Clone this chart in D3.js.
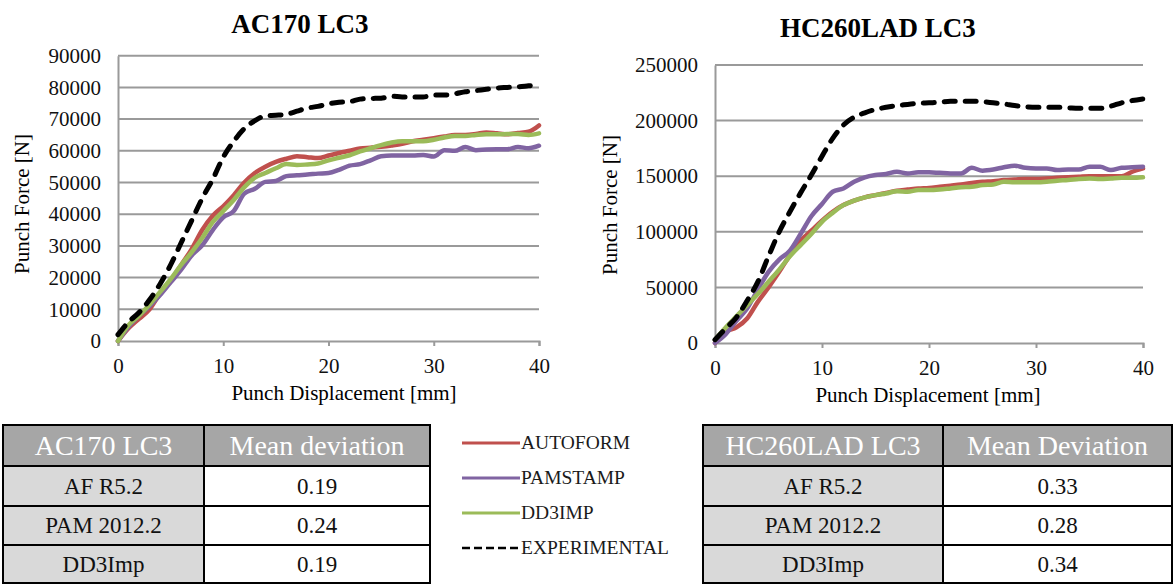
<!DOCTYPE html>
<html>
<head>
<meta charset="utf-8">
<script src="https://cdn.jsdelivr.net/npm/d3@7"></script>
<style>
  body { margin: 0; background: #fff; }
  svg { display: block; }
  svg text { font-family: "Liberation Serif", "Times New Roman", serif; }
</style>
</head>
<body>
<svg></svg>
<script>
// punch displacement [mm], shared by all series
const displacement = [0, 1, 2, 3, 4, 5, 6, 7, 8, 9, 10, 11, 12, 13, 14, 15, 16, 17, 18, 19, 20,
  21, 22, 23, 24, 25, 26, 27, 28, 29, 30, 31, 32, 33, 34, 35, 36, 37, 38, 39, 40];

// AC170 LC3 punch force [N]
const acAutoform = [0, 4000, 7000, 10000, 15000, 19000, 24000, 29000, 35000, 39500, 42500, 46000, 50000, 53000,
  55000, 56500, 57500, 58300, 58000, 57700, 58500, 59300, 60000, 60700, 61000, 61300, 61700, 62200, 63000,
  63500, 64000, 64500, 65000, 65000, 65300, 65800, 65500, 65200, 65600, 66000, 68000];
const acPamstamp = [0, 4500, 8000, 11000, 14500, 18500, 22500, 27000, 30200, 35000, 39000, 41000, 46500, 48000,
  50200, 50500, 52000, 52300, 52500, 52800, 53000, 54000, 55300, 55800, 57000, 58300, 58500, 58500, 58500,
  58700, 58200, 60200, 60000, 61200, 60200, 60400, 60500, 60500, 61200, 60800, 61600];
const acDd3imp = [0, 5000, 8000, 11500, 15500, 19500, 24000, 28000, 32500, 37500, 41000, 44500, 48500, 51500,
  53000, 54500, 55800, 55500, 55700, 56000, 57000, 57800, 58600, 59800, 60800, 61800, 62600, 63000, 63000,
  63000, 63500, 64200, 64700, 64700, 65000, 65200, 65200, 65300, 65300, 65000, 65500];
const acExperimental = [2000, 6000, 9000, 13000, 18000, 24000, 31000, 38000, 45000, 51000, 58000, 63000, 67000,
  69500, 71000, 71200, 71500, 72500, 73500, 74000, 74800, 75300, 75500, 76300, 76500, 76600, 77200, 77000,
  77000, 77000, 77600, 77600, 78000, 78600, 79000, 79400, 79800, 80000, 80200, 80500, 80800];

// HC260LAD LC3 punch force [N]
const hcAutoform = [0, 10000, 14000, 22000, 37000, 50000, 64000, 79000, 92000, 101000, 110000, 118000, 124000,
  128000, 131000, 133000, 135000, 137000, 138000, 139000, 139500, 140500, 141500, 142500, 144000, 145000,
  145500, 146500, 147000, 147500, 147500, 148000, 148500, 149000, 149500, 150000, 150000, 150000, 150000,
  154000, 157000];
const hcPamstamp = [0, 8000, 20000, 31000, 48000, 64000, 75000, 83000, 98000, 114000, 125000, 136000, 139000,
  145000, 149000, 151000, 152000, 154000, 152500, 153500, 153500, 153000, 152500, 152500, 157500, 155000,
  156000, 158000, 159500, 157500, 157000, 157000, 155500, 156000, 156000, 158500, 158500, 155500, 157500,
  158000, 158500];
const hcDd3imp = [3000, 14000, 24000, 34000, 44000, 55000, 66000, 78000, 88000, 98000, 109000, 117000, 124000,
  128000, 131000, 133000, 134500, 136500, 136000, 137500, 137500, 138000, 139000, 140000, 140500, 142000,
  142500, 145000, 144500, 144500, 144500, 145000, 146000, 146500, 147500, 148000, 147500, 148000, 148500,
  148500, 149000];
const hcExperimental = [3000, 13000, 23000, 38000, 55000, 78000, 100000, 118000, 135000, 151000, 168000, 184000,
  196000, 203000, 207000, 210000, 212000, 213500, 214500, 215500, 216000, 216500, 217500, 217500, 217500,
  217000, 216000, 215000, 213500, 212500, 212000, 212000, 212000, 211500, 211000, 211000, 211000, 213000,
  216000, 218000, 219500];

const xTicks = [0, 10, 20, 30, 40];
const acTicks = [0, 10000, 20000, 30000, 40000, 50000, 60000, 70000, 80000, 90000];
const hcTicks = [0, 50000, 100000, 150000, 200000, 250000];

const seriesNames = ['AUTOFORM', 'PAMSTAMP', 'DD3IMP', 'EXPERIMENTAL'];
const seriesColors = ['#c0504d', '#8064a2', '#9bbb59', '#000000'];

const acHeader = ['AC170 LC3', 'Mean deviation'];
const acRows = [['AF R5.2', '0.19'], ['PAM 2012.2', '0.24'], ['DD3Imp', '0.19']];
const hcHeader = ['HC260LAD LC3', 'Mean Deviation'];
const hcRows = [['AF R5.2', '0.33'], ['PAM 2012.2', '0.28'], ['DD3Imp', '0.34']];

const serif = '"Liberation Serif", "Times New Roman", serif';

const svg = d3.select('svg')
    .attr('width', 1174)
    .attr('height', 586)
    .attr('font-family', serif);

function drawChart(opt) {
  const x = d3.scaleLinear().domain([0, 40]).range([opt.left, opt.right]);
  const y = d3.scaleLinear().domain([0, opt.max]).range([opt.bottom, opt.top]);
  const g = svg.append('g');

  g.selectAll('line.grid')
    .data(opt.ticks.slice(1))
    .enter().append('line')
    .attr('x1', opt.left).attr('x2', opt.right)
    .attr('y1', d => y(d)).attr('y2', d => y(d))
    .attr('stroke', '#9a9a9a')
    .attr('stroke-width', 2);

  const yAxis = g.append('g')
    .attr('transform', `translate(${opt.left},0)`)
    .call(d3.axisLeft(y).tickValues(opt.ticks).tickFormat(d3.format('d')).tickSize(0).tickPadding(17));
  yAxis.select('.domain').attr('stroke', '#9a9a9a').attr('stroke-width', 2);

  const xAxis = g.append('g')
    .attr('transform', `translate(0,${opt.bottom})`)
    .call(d3.axisBottom(x).tickValues(xTicks).tickSize(5).tickPadding(12));
  xAxis.select('.domain').attr('stroke', '#9a9a9a').attr('stroke-width', 2);
  xAxis.selectAll('.tick line').attr('stroke', '#9a9a9a').attr('stroke-width', 2);

  g.selectAll('.tick text')
    .attr('font-family', serif)
    .attr('font-size', 21)
    .attr('fill', '#111');
  yAxis.attr('font-family', serif);
  xAxis.attr('font-family', serif);

  const line = d3.line()
    .x((d, i) => x(displacement[i]))
    .y(d => y(d))
    .curve(d3.curveMonotoneX);

  opt.series.forEach((s, i) => {
    g.append('path')
      .attr('d', line(s))
      .attr('fill', 'none')
      .attr('stroke', seriesColors[i])
      .attr('stroke-width', i === 3 ? 5 : 4.5)
      .attr('stroke-linecap', 'round')
      .attr('stroke-linejoin', 'round')
      .attr('stroke-dasharray', i === 3 ? '11,10' : null);
  });

  g.append('text')
    .attr('x', opt.titleX).attr('y', opt.titleY)
    .attr('text-anchor', 'middle')
    .attr('font-size', 27).attr('font-weight', 'bold')
    .text(opt.title);

  g.append('text')
    .attr('x', opt.xLabelX).attr('y', opt.xLabelY)
    .attr('text-anchor', 'middle')
    .attr('font-size', 21)
    .text('Punch Displacement [mm]');

  g.append('text')
    .attr('transform', `translate(${opt.yLabelX},${opt.yLabelY}) rotate(-90)`)
    .attr('text-anchor', 'middle')
    .attr('font-size', 21)
    .text('Punch Force [N]');
}

drawChart({
  left: 118, right: 539, top: 55.7, bottom: 341, max: 90000, ticks: acTicks,
  series: [acAutoform, acPamstamp, acDd3imp, acExperimental],
  title: 'AC170 LC3', titleX: 300, titleY: 33,
  xLabelX: 344, xLabelY: 400, yLabelX: 29, yLabelY: 204
});

drawChart({
  left: 715, right: 1143, top: 65, bottom: 343, max: 250000, ticks: hcTicks,
  series: [hcAutoform, hcPamstamp, hcDd3imp, hcExperimental],
  title: 'HC260LAD LC3', titleX: 878, titleY: 37,
  xLabelX: 928, xLabelY: 402, yLabelX: 617, yLabelY: 205
});

// legend
const legend = svg.append('g');
const legendY = [443, 478, 513, 548];
seriesNames.forEach((name, i) => {
  legend.append('line')
    .attr('x1', 462).attr('x2', 520)
    .attr('y1', legendY[i]).attr('y2', legendY[i])
    .attr('stroke', seriesColors[i])
    .attr('stroke-width', i === 3 ? 2.5 : 3)
    .attr('stroke-dasharray', i === 3 ? '8,4' : null);
  legend.append('text')
    .attr('x', 521).attr('y', legendY[i] + 6)
    .attr('font-size', 19.5)
    .attr('fill', '#1a1a1a')
    .text(name);
});

function drawTable(cols, header, rows) {
  const rowY = [425, 466, 506, 545, 583];
  const g = svg.append('g');
  const all = [header].concat(rows);
  all.forEach((r, ri) => {
    r.forEach((cell, ci) => {
      const fill = ri === 0 ? '#a6a6a6' : (ci === 0 ? '#d9d9d9' : '#ffffff');
      g.append('rect')
        .attr('x', cols[ci]).attr('y', rowY[ri])
        .attr('width', cols[ci + 1] - cols[ci])
        .attr('height', rowY[ri + 1] - rowY[ri])
        .attr('fill', fill)
        .attr('stroke', '#000')
        .attr('stroke-width', 2);
      g.append('text')
        .attr('x', (cols[ci] + cols[ci + 1]) / 2)
        .attr('y', (rowY[ri] + rowY[ri + 1]) / 2 + (ri === 0 ? 9 : 7.5))
        .attr('text-anchor', 'middle')
        .attr('font-size', ri === 0 ? 28 : 23)
        .attr('fill', ri === 0 ? '#ffffff' : '#111')
        .text(cell);
    });
  });
}

drawTable([3, 204, 430], acHeader, acRows);
drawTable([703, 943, 1172], hcHeader, hcRows);
</script>
</body>
</html>
